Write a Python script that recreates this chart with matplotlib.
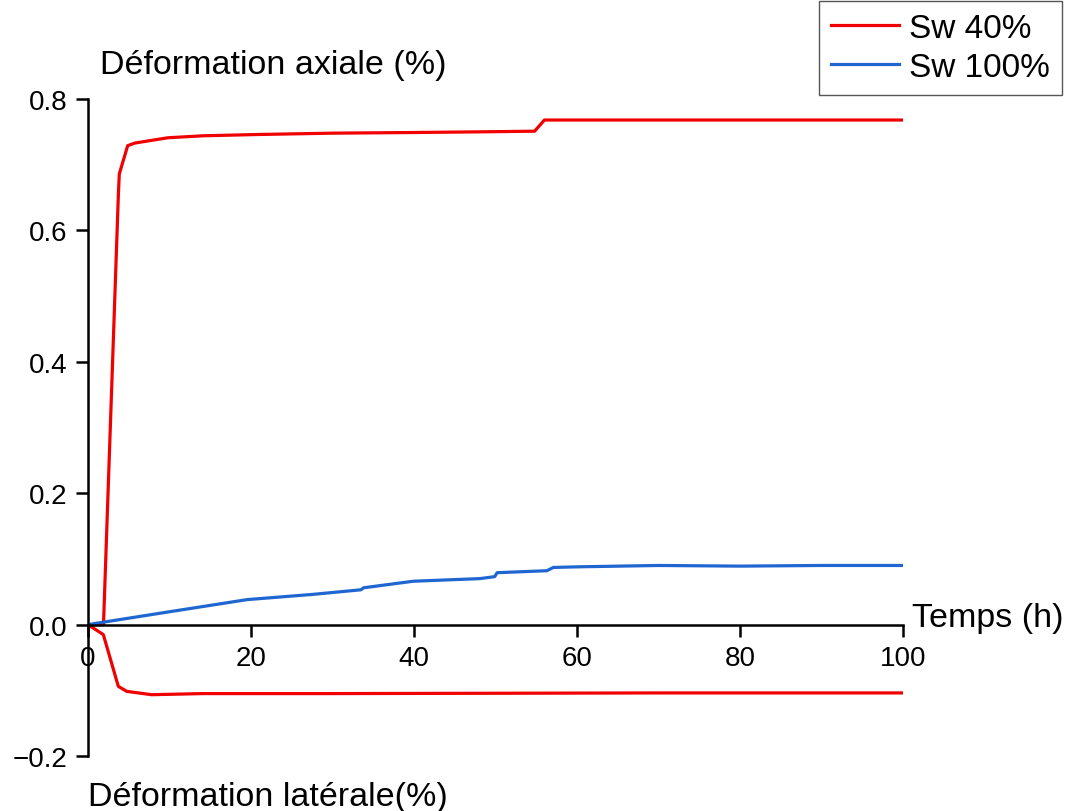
import matplotlib
matplotlib.use("Agg")
import matplotlib.pyplot as plt

plt.rcParams['font.family'] = ['Liberation Sans', 'DejaVu Sans']

# Sw 40% axial strain
t_axial_40 = [0, 1.9, 3.72, 3.84, 4.87, 5.77, 9.8, 14.1, 21, 30, 40, 48, 54.8, 56.0, 100]
y_axial_40 = [0, 0.0, 0.652, 0.686, 0.729, 0.733, 0.741, 0.744, 0.746, 0.748, 0.749, 0.750, 0.751, 0.768, 0.768]

# Sw 40% lateral strain
t_lat_40 = [0, 1.88, 3.72, 4.75, 7.8, 14.1, 30, 50, 70, 100]
y_lat_40 = [0, -0.0152, -0.094, -0.1016, -0.1067, -0.105, -0.105, -0.1045, -0.104, -0.104]

# Sw 100% axial strain
t_axial_100 = [0, 9.2, 19.5, 27.6, 33.5, 33.8, 39.9, 48.1, 49.9, 50.2, 56.3, 57.1, 60.4, 70, 80, 90, 100]
y_axial_100 = [0, 0.018, 0.038, 0.046, 0.053, 0.056, 0.066, 0.070, 0.073, 0.079, 0.082, 0.087, 0.088, 0.090, 0.089, 0.090, 0.090]

x_ticks = [0, 20, 40, 60, 80, 100]
y_ticks = [-0.2, 0.0, 0.2, 0.4, 0.6, 0.8]

red = '#F00000'
blue = '#1F66D1'

fig = plt.figure(figsize=(10.72, 8.12), dpi=100)
ax = fig.add_axes([88/1072, 1-757/812, (903-88)/1072, (757-100)/812])

ax.plot(t_axial_40, y_axial_40, color=red, lw=2.3, label='Sw 40%')
ax.plot(t_lat_40, y_lat_40, color=red, lw=2.3)
ax.plot(t_axial_100, y_axial_100, color=blue, lw=2.3, label='Sw 100%')

ax.set_xlim(0, 100)
ax.set_ylim(-0.2, 0.8)
ax.spines['top'].set_visible(False)
ax.spines['right'].set_visible(False)
ax.spines['bottom'].set_position(('data', 0))
ax.spines['left'].set_position(('data', 0))
for s in ('left', 'bottom'):
    ax.spines[s].set_linewidth(1.8)

ax.set_xticks(x_ticks)
ax.set_yticks(y_ticks)
ax.set_yticklabels([f'{v:.1f}'.replace('-', '\u2212') for v in y_ticks])
ax.tick_params(axis='both', direction='out', length=8.5, width=1.8, labelsize=20)
ax.tick_params(axis='y', pad=6)
ax.tick_params(axis='x', pad=6)

fs = 24.5
fig.text(912/1072, 1-627/812, 'Temps (h)', fontsize=fs, ha='left', va='baseline')
fig.text(100/1072, 1-74/812, 'Déformation axiale (%)', fontsize=fs, ha='left', va='baseline')
fig.text(88/1072, 1-806/812, 'Déformation latérale(%)', fontsize=fs, ha='left', va='baseline')

leg = fig.legend(loc='upper right', bbox_to_anchor=(1062/1072, 1-2/812), fontsize=24,
                 frameon=True, fancybox=False, edgecolor='#555555', framealpha=1,
                 handlelength=2.05, handletextpad=0.3, labelspacing=0.25,
                 borderpad=0.35, borderaxespad=0)
leg.get_frame().set_linewidth(1.0)

fig.savefig('out.png', dpi=100)
